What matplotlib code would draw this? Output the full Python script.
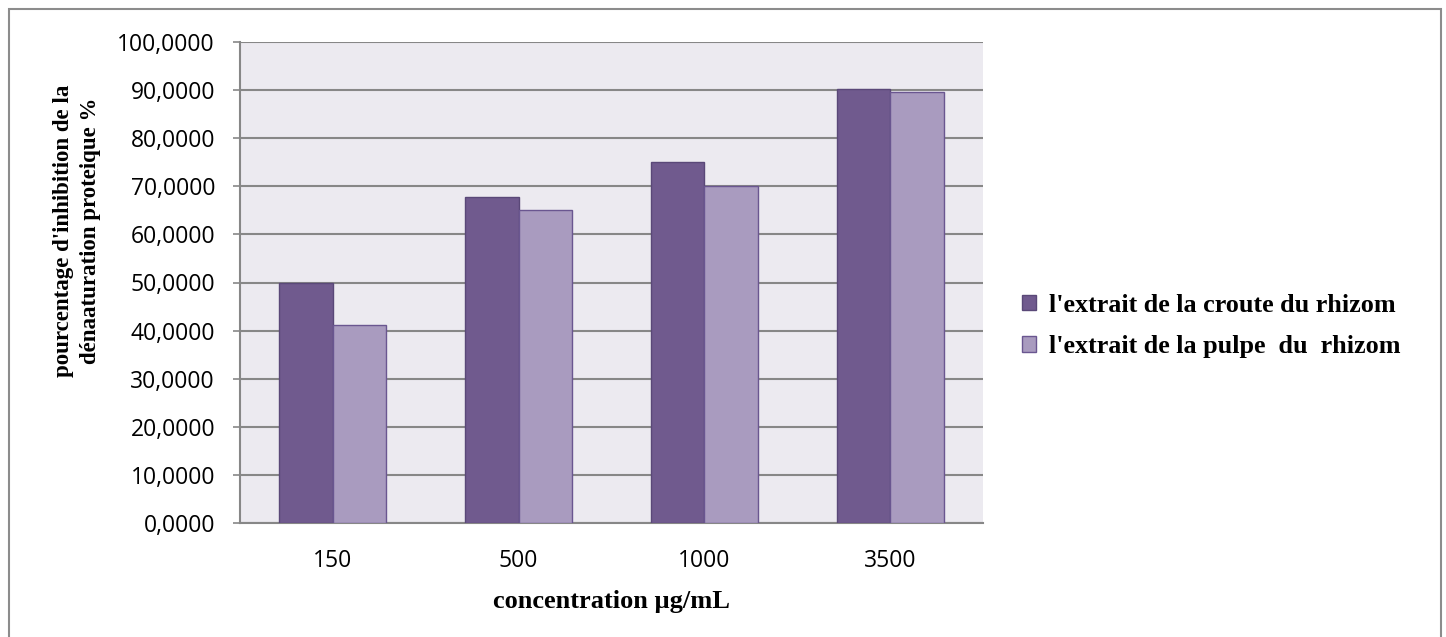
import numpy as np
import matplotlib.pyplot as plt
from matplotlib.patches import Rectangle

# concentrations and inhibition values (%)
concentrations = ['150', '500', '1000', '3500']
croute = [50.0, 67.8, 75.0, 90.2]
pulpe = [41.2, 65.1, 70.1, 89.6]
series_names = ["l'extrait de la croute du rhizom", "l'extrait de la pulpe  du  rhizom"]
yticks = [0, 10, 20, 30, 40, 50, 60, 70, 80, 90, 100]

dark = '#705A8E'
light = '#A99BBF'
grid_col = '#878787'

W, H = 1446, 637
fig = plt.figure(figsize=(W / 100, H / 100), dpi=100)
ax = fig.add_axes([240 / W, 114 / H, 743 / W, 481 / H])

# outer frame around the whole chart (bottom edge runs off the image)
fig.patches.append(Rectangle((9 / W, -10 / H), 1432 / W, 638 / H,
                             transform=fig.transFigure, fill=False,
                             edgecolor='#8c8c8c', linewidth=1.5))

x = np.arange(len(concentrations))
w = 0.288
ax.bar(x - w / 2, croute, w, color=dark, edgecolor='#5A4878', linewidth=1,
       label=series_names[0], zorder=3)
ax.bar(x + w / 2, pulpe, w, color=light, edgecolor='#6A5690', linewidth=1,
       label=series_names[1], zorder=3)

ax.set_facecolor('#ECEAF0')
ax.set_xlim(-0.5, len(concentrations) - 0.5)
ax.set_ylim(0, 100)
ax.set_yticks(yticks)
ax.set_yticklabels([('%.4f' % v).replace('.', ',') for v in yticks],
                   fontsize=16.5, family='Open Sans')
ax.set_xticks(x)
ax.set_xticklabels(concentrations, fontsize=16.5, family='Open Sans')
ax.yaxis.grid(True, color=grid_col, linewidth=1.5, zorder=0)
ax.set_axisbelow(True)

for side in ['top', 'right']:
    ax.spines[side].set_visible(False)
for side in ['left', 'bottom']:
    ax.spines[side].set_color(grid_col)
    ax.spines[side].set_linewidth(1.5)
ax.tick_params(axis='y', length=5, color=grid_col, width=1.2, pad=13)
ax.tick_params(axis='x', length=0, pad=19)

fig.text(77 / W, 1 - 231 / H,
         "pourcentage d'inhibition de la\ndénaaturation proteique %",
         rotation=90, ha='center', va='center', multialignment='center',
         family='Liberation Serif', fontweight='bold', fontsize=16.5,
         linespacing=1.35)
ax.set_xlabel('concentration µg/mL', family='Liberation Serif',
              fontweight='bold', fontsize=19, labelpad=12)

leg = ax.legend(loc='center left', bbox_to_anchor=((1022 - 240) / 743, (523 - 326) / 481),
                frameon=False,
                prop={'family': 'Liberation Serif', 'weight': 'bold', 'size': 18.8},
                handlelength=0.55, handleheight=0.55, handletextpad=0.5,
                labelspacing=0.7, borderaxespad=0, borderpad=0)

fig.savefig('out.png', dpi=100)
